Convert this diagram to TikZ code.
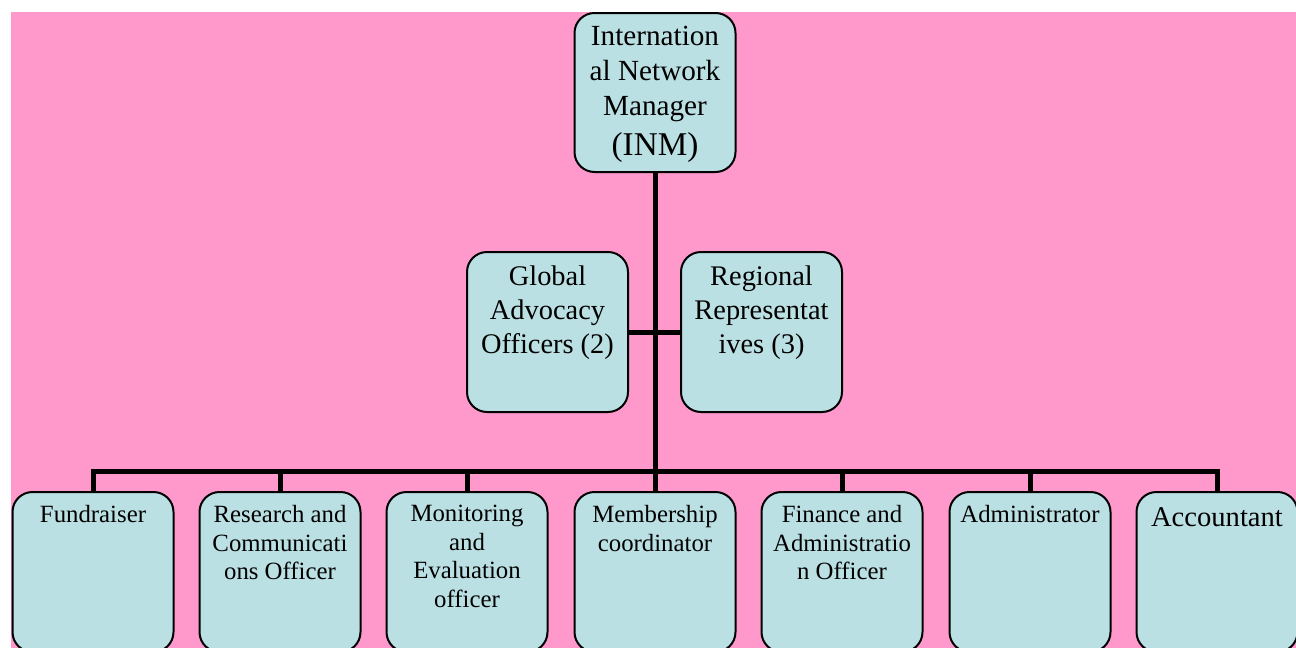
\documentclass[tikz,border=0pt]{standalone}
\usepackage{fontspec}
\setmainfont{Liberation Serif}
\definecolor{bgpink}{RGB}{255,153,204}
\definecolor{boxblue}{RGB}{187,224,227}
\tikzset{
  orgbox/.style={draw=black, line width=1pt, fill=boxblue, rounded corners=10pt,
    minimum width=80.5pt, minimum height=80pt, inner sep=0pt},
  lbl/.style={anchor=north, inner sep=0pt, align=center},
  toplbl/.style={lbl, font=\fontsize{14.2}{17}\selectfont},
  botlbl/.style={lbl, font=\fontsize{12.4}{14.25}\selectfont},
  conn/.style={draw=black, line width=2.5pt}
}
\begin{document}
\begin{tikzpicture}[x=0.5pt, y=-0.5pt]
\useasboundingbox (0,0) rectangle (1296,648);
\fill[bgpink] (11,12) rectangle (1296,648);

% boxes
\node[orgbox, minimum height=79.5pt] (inm) at (655,92.5) {};
\node[orgbox] (glob) at (547.5,332) {};
\node[orgbox] (reg) at (761.5,332) {};
\node[orgbox] (fund) at (93,572) {};
\node[orgbox] (res) at (280,572) {};
\node[orgbox] (mon) at (467,572) {};
\node[orgbox] (mem) at (655,572) {};
\node[orgbox] (fin) at (842,572) {};
\node[orgbox] (adm) at (1030,572) {};
\node[orgbox] (acc) at (1217,572) {};

\coordinate (bus) at (655,471);

% connectors
\draw[conn] (inm.south) -- (inm.south |- bus);
\draw[conn] (glob.east) -- (reg.west);
\draw[conn] (fund.north) |- (bus) -| (acc.north);
\foreach \n in {res,mon,mem,fin,adm}
  \draw[conn] (\n.north) -- (\n.north |- bus);

% labels
\node[lbl, font=\fontsize{14.6}{17.5}\selectfont] (inmt) at ([yshift=-7pt]inm.north)
  {Internation\\al Network\\Manager\\[2.5pt]{\fontsize{16.6}{20}\selectfont (INM)}};
\node[toplbl] (globt) at ([yshift=-7pt]glob.north) {Global\\Advocacy\\Officers (2)};
\node[toplbl] (regt) at ([yshift=-7pt]reg.north) {Regional\\Representat\\ives (3)};
\node[botlbl] (fundt) at ([yshift=-7pt]fund.north) {Fundraiser};
\node[botlbl] (rest) at ([yshift=-7pt]res.north) {Research and\\Communicati\\ons Officer};
\node[botlbl] (mont) at ([yshift=-7pt]mon.north) {Monitoring\\and\\Evaluation\\officer};
\node[botlbl] (memt) at ([yshift=-7pt]mem.north) {Membership\\coordinator};
\node[botlbl] (fint) at ([yshift=-7pt]fin.north) {Finance and\\Administratio\\n Officer};
\node[botlbl] (admt) at ([yshift=-7pt]adm.north) {Administrator};
\node[lbl, font=\fontsize{14.3}{17}\selectfont] (acct) at ([yshift=-8pt]acc.north) {Accountant};
\end{tikzpicture}
\end{document}
